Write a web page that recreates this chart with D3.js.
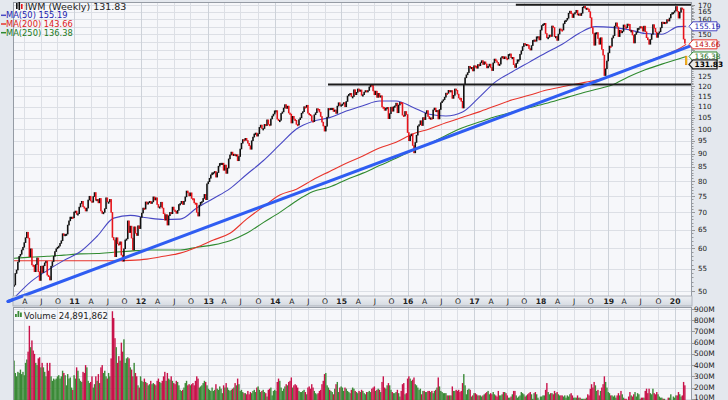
<!DOCTYPE html>
<html><head><meta charset="utf-8">
<script src="https://cdn.jsdelivr.net/npm/d3@7"></script>
<style>body{margin:0;background:#e4e8ee;}svg{display:block}</style>
</head><body><svg id="c" width="728" height="400"></svg>
<script>
// ---------- DATA ----------
const ticker = "IWM (Weekly)";
const firstOpen = 51.0;
const lastOpen = 136.4;
// weekly closes (dividend adjusted), weeks starting Mon 2010-02-08
const closes = [
51.3,53.9,54.7, 56.6,58.0,58.5,59.6, 60.3,61.5,62.8,64.3,62.7, 57.9,59.9,55.9,55.8, 54.3,56.0,57.6,54.3, 52.3,55.6,54.1,55.7,56.4, 56.8,53.5,53.2,52.4, 55.6,56.7,58.0,59.2, 59.9,60.3,60.6,61.3,62.0, 63.9,63.4,63.7,63.8, 66.3,67.5,68.6,68.6,68.4,
70.1,70.4,69.4,69.6, 71.6,72.7,73.4,71.7, 71.3,70.4,71.3,73.8, 75.0,73.5,73.1,74.9,76.2, 73.7,74.0,72.9,74.3, 70.4,69.7,70.0,71.1, 74.5,73.2,73.2,74.0,70.0, 62.9,62.2,57.9,62.8, 61.2,61.0,61.7,58.3,56.8, 59.9,62.2,62.5,67.5, 64.2,66.0,62.7,59.6, 65.8,64.0,63.4,66.1,65.3,
68.5,69.8,71.3,71.0, 73.2,72.5,73.0,73.4, 72.7,73.2,74.8,73.8,74.5, 72.4,71.5,71.7,73.1, 71.3,69.6,67.7,69.3, 66.3,69.0,70.0,69.6,71.6, 70.7,70.3,69.7,70.6, 72.4,72.7,73.4,72.4,73.4, 74.8,76.7,76.1,75.1, 76.1,74.3,74.2,72.9, 72.8,70.0,68.9,72.2,73.1, 73.3,74.3,75.6,73.9,
79.1,79.8,81.0,82.2, 82.9,83.0,83.4,81.4, 83.0,85.3,86.3,86.4,86.4, 83.8,85.7,82.7,84.6, 88.0,89.5,90.6,89.4,89.8, 89.2,89.6,87.3,88.9, 91.8,94.1,95.6,95.3, 96.1,95.2,94.1,93.1,91.7, 95.1,96.6,97.9,98.3, 97.0,98.0,100.7,101.7, 100.2,100.2,102.0,101.5,104.0, 102.0,101.6,104.4,105.7,
106.6,108.1,108.2,104.3,103.7, 103.8,106.9,107.6,109.4, 111.0,109.2,110.3,107.1, 106.6,102.6,105.6,104.3, 103.8,102.0,101.7,104.1,104.9, 107.0,107.7,110.0,109.7, 110.7,107.0,106.5,105.9, 103.6,103.2,106.3,107.2,109.1, 108.8,107.5,105.5,103.0, 101.3,99.1,101.2,105.2,109.2, 109.1,109.3,109.3,107.8, 108.5,106.9,110.3,111.9,
110.7,110.9,111.3,112.0,110.0, 112.5,115.2,116.0,116.5, 114.9,114.9,118.3,115.8, 117.0,118.7,117.5,118.2, 115.5,115.8,117.1,117.9,117.3, 117.9,119.7,120.9,120.5, 117.7,115.8,117.6,114.5,116.5, 114.6,115.3,109.9,109.7, 108.3,109.3,109.7,104.5, 106.8,109.8,107.9,110.0,110.4, 111.7,107.2,110.8,112.1, 111.9,106.1,105.7,107.8,106.4,
98.5,95.1,97.1,97.9, 93.2,90.3,94.4,97.4, 101.3,101.9,103.6,101.5,105.0, 104.1,107.0,108.2,105.5, 104.5,104.9,104.5,108.5, 109.4,107.7,108.3,104.4, 108.7,111.9,112.7,113.4,114.6, 116.6,116.5,118.0,117.3, 117.9,114.0,115.5,118.7,118.0, 116.1,114.2,114.1,112.6, 109.4,121.1,124.5,126.1, 127.3,130.8,129.8,130.2,128.2,
131.1,130.9,129.7,131.8, 131.1,132.8,134.0,131.8, 133.3,132.1,129.9,130.8,132.0, 130.1,128.4,132.7,134.9, 133.9,133.0,131.4,132.0, 135.6,136.4,135.1,136.2,135.3, 135.0,137.6,137.9,135.7, 135.9,131.7,130.1,132.4, 134.5,134.5,137.7,139.8,142.3, 144.2,143.3,143.7,143.2, 141.1,140.2,142.9,146.1, 146.4,145.6,148.4,148.5,146.4,
152.7,155.7,156.6,157.2, 150.5,147.7,148.0,149.5, 148.6,155.4,154.4,148.4,148.6, 146.1,150.1,153.5,152.9, 152.7,156.9,158.8,159.3, 160.6,164.1,165.6,163.8,161.1, 163.7,164.6,166.2,162.9, 163.7,162.5,164.1,168.4,169.1, 167.6,167.8,167.1,165.2, 161.0,154.3,150.5,143.1, 150.9,151.1,147.3,143.7,147.8, 140.6,137.2,125.7,129.4,
133.8,138.5,142.6,142.5, 147.6,149.1,155.3,157.5, 154.8,148.5,152.6,150.9,151.9, 156.1,154.7,154.3,156.7, 156.5,152.3,152.4,149.5,144.5, 149.9,151.2,153.8,154.0, 155.0,154.8,152.0,155.3, 151.6,147.8,146.5,143.7,146.7, 150.0,156.3,153.9,151.4, 148.0,150.6,151.6,154.2, 158.0,157.7,157.9,157.3,159.7, 158.7,160.8,163.4,164.5,
164.7,165.8,168.9,165.5,160.7, 164.8,167.9,167.1,146.9, 144.3,131.83
];
// weekly volume, millions of shares
const volumes = [
440,330,300, 340,330,360,320, 340,310,420,450,520, 750,560,620,530, 500,420,400,460, 470,380,420,380,340, 300,420,350,420, 300,260,280,270, 280,300,310,280,300, 350,330,310,220, 320,280,290,200,180,
310,280,380,350, 280,260,250,340, 330,400,380,260, 240,250,300,200,230, 300,260,320,240, 380,400,330,350, 300,280,330,300,460, 880,820,640,560, 420,480,440,600,520, 630,420,460,470, 460,380,360,300, 420,330,300,220,200,
300,260,250,280, 250,240,220,230, 260,230,240,230,220, 260,280,250,240, 260,300,340,260, 330,280,270,300,260, 240,230,260,250, 220,180,170,180,200, 240,260,220,230, 220,230,240,220, 260,300,280,200,210, 220,240,260,250,
220,190,180,170, 200,170,180,230, 190,180,210,190,150, 220,200,240,200, 180,170,180,190,200, 240,220,280,230, 170,180,160,150, 150,140,170,140,160, 150,170,180,160, 200,210,180,160, 170,180,160,150,120, 180,190,200,130,
170,180,170,250,280, 260,200,170,190, 210,230,220,250, 260,290,200,220, 230,220,200,170,160, 160,170,180,160, 140,200,210,190, 230,200,170,150,140, 150,170,180,230, 260,320,330,220,200, 180,170,160,140, 190,230,250,160,
200,210,200,170,200, 190,170,160,150, 180,200,190,170, 160,150,170,160, 180,170,150,140,160, 160,170,160,190, 200,210,170,180,190, 180,160,250,300, 200,190,220,240, 220,180,160,150,150, 160,180,150,120, 170,230,240,140,150,
280,300,280,260, 270,290,230,220, 200,180,190,140,170, 170,160,160,170, 170,160,170,150, 170,180,200,290, 210,170,160,150,150, 150,130,130,130, 130,210,170,170,180, 170,180,160,170, 240,320,220,140, 180,190,180,120,130,
150,150,140,130, 130,130,120,130, 140,150,160,170,140, 150,140,160,140, 130,120,170,130, 130,140,160,160,150, 130,110,110,120, 140,170,170,130, 110,120,130,160,150, 140,120,130,140, 150,160,140,100, 150,160,140,110,90,
120,120,130,130, 180,240,160,140, 150,150,140,170,150, 160,140,130,130, 130,120,130,110, 130,120,140,150,130, 110,110,110,130, 110,110,100,100,100, 100,110,140,130, 190,230,200,250, 220,170,180,130,170, 200,230,300,250,
200,160,150,130, 130,120,130,110, 130,150,130,170,140, 110,100,100,90, 120,160,130,120,140, 160,120,150,140, 100,110,110,110, 170,190,150,190,150, 140,190,150,140, 160,140,120,110, 110,100,100,90,80, 110,110,140,80,
120,110,130,130,160, 140,120,130,250, 220,25
];
const currentVolume = "24,891,862";
// moving averages read every 13 weeks (plus the last week)
const maStepWeeks = 13;
const ma50 = [48.5,52.0,54.6,57.0,59.2,63.2,68.3,69.1,68.4,67.9,68.0,71.3,74.3,77.5,82.3,87.3,93.5,100,103.4,105,108,110.5,112.7,112.7,109.8,106.5,105.7,107.5,114.5,122.5,127.8,133,138.4,143.7,150.5,155,154.5,153,150.5,150,155,155.19];
const ma200 = [56.9,56.9,56.9,56.9,56.9,56.9,56.9,57.0,57.3,58.0,58.8,60.3,62.2,64.0,68.0,71.7,75.4,77.3,80.5,83.4,86.4,89.1,92.2,94.5,97.9,100.0,102.7,105.2,107.6,110.5,113.3,115.5,118,119.8,121.5,123.2,125.5,129.5,133,136.6,140.8,143.66];
const ma250 = [57.5,57.8,58.0,58.3,58.6,58.7,59.0,59.3,59.6,59.6,59.6,60.3,60.9,62.0,64.0,67,70,73.5,76.5,78.0,80.5,82.8,85.5,88.2,91.3,94,97.3,100.5,103,105.5,107.5,109.5,111.5,113.8,116.2,118.4,120.7,125,128.8,132,134.9,136.38];
const maNames = ["MA(50)","MA(200)","MA(250)"];
const maColors = ["#4848c4","#e8352c","#2f8a2f"];
const maTextColors = ["#2323b0","#e01b1b","#1d7a1d"];
const trendLine = [["2010-01-10",47.8],["2020-04-14",143]];
const resistance = [[["2017-08-23",170.2],["2020-04-14",170.2]],[["2014-10-29",121],["2020-04-14",121]]];
const priceTicks = [50,55,60,65,70,75,80,85,90,95,100,105,110,115,120,125,130,135,140,145,150,155,160,165,170];
const volTicks = [100,200,300,400,500,600,700,800,900];
const volTickLabels = ["100M","200M","300M","400M","500M","600M","700M","800M","900M"];
const quarterLetters = {3:"A",6:"J",9:"O"};
const years = [2010,2011,2012,2013,2014,2015,2016,2017,2018,2019,2020];

// ---------- LAYOUT ----------
const P = {l:13, r:692, t:2, b:296};
const V = {t:307, b:412};
const svg = d3.select("#c");
const n = closes.length;
const barDate = i => new Date(2010, 1, 12 + 7*i);
const barMonday = i => new Date(2010, 1, 8 + 7*i);
const x = d3.scaleTime().domain([new Date(2011,0,1), new Date(2020,0,1)]).range([73,673]);
const y = d3.scaleLog().domain([50,170]).range([291,5]);
const yv = d3.scaleLinear().domain([0,900]).range([410,309]);
const FONT = "DejaVu Sans, Verdana, sans-serif";

svg.append("rect").attr("width",728).attr("height",400).attr("fill","#e4e8ee");
const defs = svg.append("defs");
defs.append("clipPath").attr("id","pc").append("rect").attr("x",P.l).attr("y",P.t).attr("width",P.r-P.l).attr("height",P.b-P.t);
defs.append("clipPath").attr("id","vc").append("rect").attr("x",P.l).attr("y",V.t).attr("width",P.r-P.l).attr("height",V.b-V.t);
const g1 = defs.append("linearGradient").attr("id","band").attr("x1",0).attr("y1",0).attr("x2",0).attr("y2",1);
g1.append("stop").attr("offset","0%").attr("stop-color","#eef0f4");
g1.append("stop").attr("offset","100%").attr("stop-color","#d5dae1");

svg.append("rect").attr("x",P.l).attr("y",P.t).attr("width",P.r-P.l).attr("height",P.b-P.t).attr("fill","#f6f7fa");
svg.append("rect").attr("x",P.l).attr("y",V.t).attr("width",P.r-P.l).attr("height",V.b-V.t).attr("fill","#f6f7fa");

// time markers (first bar of each quarter)
const markers = [];
years.forEach(yr => [0,3,6,9].forEach(m => {
  const d = new Date(yr, m, 1);
  for (let i = 1; i < n; i++) {
    if (barMonday(i) >= d && barMonday(i-1) < d) {
      markers.push({x: x(barDate(i)), label: m === 0 ? String(yr).slice(2) : quarterLetters[m], year: m === 0});
      break;
    }
  }
}));

// gridlines
const grid = svg.append("g").attr("stroke","#dcdfe5").attr("stroke-width",1);
priceTicks.forEach(t => grid.append("line").attr("x1",P.l).attr("x2",P.r).attr("y1",Math.round(y(t))+0.5).attr("y2",Math.round(y(t))+0.5));
volTicks.forEach(t => grid.append("line").attr("x1",P.l).attr("x2",P.r).attr("y1",Math.round(yv(t))+0.5).attr("y2",Math.round(yv(t))+0.5));
markers.forEach(mk => {
  const xx = Math.round(mk.x)+0.5;
  grid.append("line").attr("x1",xx).attr("x2",xx).attr("y1",P.t).attr("y2",P.b).attr("stroke", mk.year ? "#cdd2d9" : "#dcdfe5");
  grid.append("line").attr("x1",xx).attr("x2",xx).attr("y1",V.t).attr("y2",V.b).attr("stroke", mk.year ? "#cdd2d9" : "#dcdfe5");
});

// price panel content
const pg = svg.append("g").attr("clip-path","url(#pc)");
const maIdx = i => Math.min(i*maStepWeeks, n-1);
[ma250, ma200, ma50].forEach((arr, k) => {
  const ci = 2-k;
  const line = d3.line().x((v,i)=>x(barDate(maIdx(i)))).y(v=>y(v)).curve(d3.curveMonotoneX);
  pg.append("path").attr("d",line(arr)).attr("fill","none").attr("stroke",maColors[ci]).attr("stroke-width",1.1);
});

// candles (body from previous close to close)
const cg = pg.append("g");
closes.forEach((c,i) => {
  const o = i === 0 ? firstOpen : (i === n-1 ? lastOpen : closes[i-1]);
  const prev = i === 0 ? firstOpen : closes[i-1];
  const y0 = y(o), y1 = y(c);
  const top = Math.min(y0,y1), h = Math.max(1.5, Math.abs(y1-y0));
  const xx = x(barDate(i));
  const last = i === n-1;
  cg.append("rect").attr("x",xx-0.8).attr("y",top-0.3).attr("width",1.6).attr("height",h+0.6)
    .attr("fill", last ? "#f5d90a" : (c >= prev ? "#111" : "#e8141b"))
    .attr("stroke", last ? "#e07a10" : "none").attr("stroke-width", last ? 0.6 : 0);
});

// resistance lines
resistance.forEach(seg => {
  pg.append("line").attr("x1",x(new Date(seg[0][0]))).attr("x2",x(new Date(seg[1][0])))
    .attr("y1",y(seg[0][1])).attr("y2",y(seg[1][1])).attr("stroke","#1b1b1b").attr("stroke-width",2);
});

// trend line
const tx0 = x(new Date(trendLine[0][0])), ty0 = y(trendLine[0][1]);
const tx1 = x(new Date(trendLine[1][0])), ty1 = y(trendLine[1][1]);
svg.append("line").attr("x1",tx0).attr("y1",ty0).attr("x2",tx1).attr("y2",ty1)
  .attr("stroke","#2f5df2").attr("stroke-width",3).attr("stroke-linecap","round");

svg.append("rect").attr("x",P.l+0.5).attr("y",P.t+0.5).attr("width",P.r-P.l-1).attr("height",P.b-P.t).attr("fill","none").attr("stroke","#959ba4");

// value boxes data
const boxes = [
  {v: ma50[ma50.length-1], stroke: maColors[0], fill:"#ffffff", color:"#2323b0", bold:false},
  {v: ma200[ma200.length-1], stroke: maColors[1], fill:"#ffffff", color:"#c01010", bold:false},
  {v: ma250[ma250.length-1], stroke: maColors[2], fill:"#ffffff", color:"#1d6e1d", bold:false},
  {v: closes[n-1], stroke: "#222", fill:"#e8e8e8", color:"#000", bold:true}
];

// right price axis
const ax = svg.append("g");
for (let v = 50; v <= 170; v++) {
  const yy = Math.round(y(v))+0.5;
  ax.append("line").attr("x1",P.r).attr("x2",P.r + (v%5===0?3:1.5)).attr("y1",yy).attr("y2",yy).attr("stroke","#777").attr("stroke-width",0.7);
}
priceTicks.filter(t => boxes.every(b => Math.abs(y(t) - y(b.v)) > 7))
  .forEach(t => ax.append("text").attr("x",698).attr("y",y(t)+2.5).text(t)
  .attr("font-family",FONT).attr("font-size",7.1).attr("fill","#222"));

boxes.forEach(b => {
  const cy = y(b.v);
  svg.append("path").attr("d",`M${P.r-3},${cy} L${P.r+1},${cy-4.5} L${P.r+25},${cy-4.5} L${P.r+25},${cy+4.5} L${P.r+1},${cy+4.5} Z`)
    .attr("fill",b.fill).attr("stroke",b.stroke).attr("stroke-width", b.bold ? 1.3 : 1);
  svg.append("text").attr("x",P.r+2.5).attr("y",cy+2.7).text(b.v.toFixed(2))
    .attr("font-family",FONT).attr("font-size",7.4).attr("font-weight", b.bold ? "bold" : "normal").attr("fill",b.color);
});

// axis band with time labels
svg.append("rect").attr("x",P.l).attr("y",P.b).attr("width",P.r-P.l).attr("height",10).attr("fill","url(#band)").attr("stroke","#a3a9b1").attr("stroke-width",0.8);
markers.forEach(mk => svg.append("text").attr("x",mk.x+0.5).attr("y",P.b+8.3).attr("text-anchor","middle").text(mk.label)
  .attr("font-family",FONT).attr("font-size",7.6).attr("font-weight", mk.year ? "bold" : "normal").attr("fill","#222"));

// trend line crossing the band at the left
const slope = (ty1-ty0)/(tx1-tx0);
svg.append("line").attr("x1",tx0).attr("y1",ty0).attr("x2",tx0+14).attr("y2",ty0+14*slope)
  .attr("stroke","#2f5df2").attr("stroke-width",3).attr("stroke-linecap","round");

// volume bars
const vg = svg.append("g").attr("clip-path","url(#vc)");
volumes.forEach((v,i) => {
  const prev = i === 0 ? firstOpen : closes[i-1];
  const up = closes[i] >= prev;
  const xx = x(barDate(i));
  vg.append("rect").attr("x",xx-0.7).attr("y",yv(v)).attr("width",1.4).attr("height",Math.max(0,yv(0)-yv(v)))
    .attr("fill", up ? "#3b8a37" : "#c8124a");
});
svg.append("rect").attr("x",P.l+0.5).attr("y",V.t+0.5).attr("width",P.r-P.l-1).attr("height",V.b-V.t).attr("fill","none").attr("stroke","#959ba4");
volTicks.forEach((t,k) => {
  const yy = Math.round(yv(t))+0.5;
  svg.append("line").attr("x1",P.r).attr("x2",P.r+3).attr("y1",yy).attr("y2",yy).attr("stroke","#777").attr("stroke-width",0.7);
  svg.append("text").attr("x",694).attr("y",Math.min(yv(t)+2.6, 399.5)).text(volTickLabels[k]).attr("font-family",FONT).attr("font-size",7.5).attr("fill","#222");
});

// legends
const lg = svg.append("g");
[[16,3,6,"#111"],[18.5,2,8,"#111"],[21,4,5,"#e8141b"]].forEach(c => lg.append("rect").attr("x",c[0]).attr("y",c[1]).attr("width",1.6).attr("height",c[2]).attr("fill",c[3]));
lg.append("text").attr("x",25).attr("y",9.5).text(ticker + " " + closes[n-1].toFixed(2))
  .attr("font-family",FONT).attr("font-size",9.5).attr("fill","#222");
const maLast = [ma50[ma50.length-1], ma200[ma200.length-1], ma250[ma250.length-1]];
maNames.forEach((nm,k) => {
  const yy = 18.3 + k*8.7;
  lg.append("line").attr("x1",1).attr("x2",6).attr("y1",yy-3).attr("y2",yy-3).attr("stroke",maColors[k]).attr("stroke-width",1.5);
  lg.append("text").attr("x",6).attr("y",yy).text(nm + " " + maLast[k].toFixed(2))
    .attr("font-family",FONT).attr("font-size",8.3).attr("fill",maTextColors[k]);
});
[[15,314,3],[17.5,311,6],[20,312.5,4.5]].forEach(c => lg.append("rect").attr("x",c[0]).attr("y",c[1]).attr("width",1.8).attr("height",c[2]).attr("fill","#3b8a37"));
lg.append("text").attr("x",24).attr("y",318.5).text("Volume " + currentVolume)
  .attr("font-family",FONT).attr("font-size",8.6).attr("fill","#222");
</script>
</body></html>
